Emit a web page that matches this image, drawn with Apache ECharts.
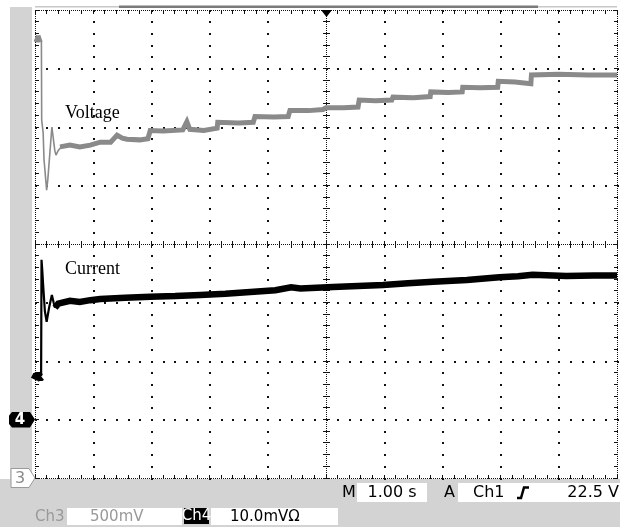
<!DOCTYPE html>
<html>
<head>
<meta charset="utf-8">
<script src="https://cdn.jsdelivr.net/npm/echarts@6/dist/echarts.min.js"></script>
<style>
html,body{margin:0;padding:0;background:#fff;}
#chart{width:620px;height:527px;}
</style>
</head>
<body>
<div id="chart"></div>
<script>
// ---- data (time in s relative to trigger, voltage in V, current in mV) ----
const timeRange = [-5, 5];
const voltRange = [0, 4];          // Ch3, 500 mV/div
const currRange = [-10, 70];       // Ch4, 10.0 mV/div
const divRange = [-4, 4];
const gridDivsX = [-5, -4, -3, -2, -1, 0, 1, 2, 3, 4, 5];
const gridDivsY = [-4, -3, -2, -1, 0, 1, 2, 3, 4];

const voltPlateau = [[-5.00, 3.76], [-4.95, 3.75], [-4.89, 3.76]];
const voltTransient = [[-4.89, 3.74], [-4.885, 3.06], [-4.86, 2.95], [-4.845, 2.72], [-4.80, 2.46],
  [-4.78, 2.55], [-4.71, 3.00], [-4.66, 2.80], [-4.64, 2.76], [-4.60, 2.80], [-4.55, 2.83]];
const voltMain = [[-4.57, 2.83], [-4.40, 2.845], [-4.23, 2.83], [-4.05, 2.845], [-3.88, 2.87], [-3.70, 2.87],
  [-3.59, 2.93], [-3.50, 2.905], [-3.42, 2.895], [-3.20, 2.89], [-3.06, 2.90], [-3.02, 2.97], [-2.80, 2.965],
  [-2.46, 2.975], [-2.39, 3.045], [-2.34, 2.98], [-2.10, 2.97], [-1.87, 2.99], [-1.86, 3.04], [-1.50, 3.035],
  [-1.25, 3.04], [-1.22, 3.09], [-0.90, 3.085], [-0.65, 3.09], [-0.62, 3.14], [-0.30, 3.14], [-0.05, 3.15],
  [0.00, 3.165], [0.30, 3.165], [0.55, 3.17], [0.57, 3.23], [0.85, 3.225], [1.13, 3.23], [1.15, 3.255],
  [1.50, 3.25], [1.79, 3.26], [1.80, 3.30], [2.10, 3.295], [2.34, 3.30], [2.35, 3.34], [2.65, 3.335],
  [2.95, 3.34], [2.96, 3.39], [3.25, 3.385], [3.52, 3.37], [3.53, 3.445], [4.00, 3.45], [4.50, 3.445], [5.00, 3.445]];

const currLow = [[-5.00, 6.8], [-4.96, 7.6], [-4.92, 7.2], [-4.895, 7.4]];
const currTransient = [[-4.895, 7.4], [-4.888, 27.3], [-4.875, 25.5], [-4.86, 23.0], [-4.83, 18.5],
  [-4.80, 16.7], [-4.76, 19.0], [-4.71, 21.3], [-4.68, 20.0], [-4.656, 19.1]];
const currMain = [[-4.656, 19.1], [-4.60, 19.8], [-4.57, 20.1], [-4.40, 20.3], [-4.23, 20.1], [-4.05, 20.4],
  [-3.88, 20.6], [-3.45, 20.8], [-3.02, 21.0], [-2.59, 21.1], [-2.16, 21.3], [-1.73, 21.5], [-1.30, 21.8],
  [-0.87, 22.1], [-0.60, 22.6], [-0.44, 22.4], [0.12, 22.65], [0.55, 22.8], [0.98, 23.0], [1.41, 23.3],
  [1.84, 23.55], [2.42, 23.85], [2.98, 24.3], [3.30, 24.5], [3.55, 24.75], [4.13, 24.55], [4.60, 24.6], [5.00, 24.6]];

const traceNames = ['Voltage', 'Current'];
const timebaseText = ['M', '1.00 s'];
const triggerText = ['A', 'Ch1', '22.5 V'];
const ch3Text = ['Ch3', '500mV'];
const ch4Text = ['Ch4', '10.0mVΩ'];
const markerText = ['4', '3'];

// ---- chart ----
const chart = echarts.init(document.getElementById('chart'), null, {renderer: 'canvas'});
const SUB = 5; // minor steps per division

function px(x, y, w, h, fill) {
  return {type: 'rect', shape: {x: x, y: y, width: w, height: h}, style: {fill: fill}, silent: true};
}

// graticule drawn through the axes' own scales
function renderGraticule(params, api) {
  const kind = api.value(0), pos = api.value(1);
  const ch = [];
  const INK = '#111';
  if (kind === 0) { // vertical line at time = pos
    const a = api.coord([pos, divRange[1]]), b = api.coord([pos, divRange[0]]);
    const c = Math.floor(a[0]);
    const top = a[1], bot = b[1];
    const n = (divRange[1] - divRange[0]) * SUB;
    const step = (bot - top) / n;
    const isLeft = pos === timeRange[0], isRight = pos === timeRange[1], isCenter = pos === 0;
    if (isLeft || isRight || isCenter) {
      for (let y = Math.floor(top); y <= bot; y += 2) ch.push(px(c, y, 1, 1, INK));
    }
    for (let k = 0; k <= n; k++) {
      const r = Math.floor(top + k * step);
      if (isLeft) ch.push(px(c, r, 4, 1, INK));
      else if (isRight) ch.push(px(c - 3, r, 4, 1, INK));
      else if (isCenter) ch.push(px(c - 3, r, 7, 1, INK));
      else ch.push(px(c, r, 2, 2, INK));
    }
  } else { // horizontal line at division = pos
    const a = api.coord([timeRange[0], pos]), b = api.coord([timeRange[1], pos]);
    const r = Math.floor(a[1]);
    const left = a[0], right = b[0];
    const n = (timeRange[1] - timeRange[0]) * SUB;
    const step = (right - left) / n;
    const isTop = pos === divRange[1], isBot = pos === divRange[0], isCenter = pos === 0;
    if (isTop || isBot || isCenter) {
      for (let x = Math.floor(left); x <= right; x += 2) ch.push(px(x, r, 1, 1, INK));
    }
    for (let k = 0; k <= n; k++) {
      const c = Math.floor(left + k * step);
      if (isTop) ch.push(px(c, r, 1, 4, INK));
      else if (isBot) ch.push(px(c, r - 3, 1, 4, INK));
      else if (isCenter) ch.push(px(c, r - 3, 1, 7, INK));
      else ch.push(px(c, r, 2, 2, INK));
    }
  }
  return {type: 'group', children: ch};
}

const graticuleData = gridDivsX.map(v => [0, v]).concat(gridDivsY.map(v => [1, v]));

function hiddenAxis(range) {
  return {type: 'value', show: false, min: range[0], max: range[1], scale: false};
}

const GREY = '#d3d3d3';
const option = {
  animation: false,
  backgroundColor: '#fff',
  grid: {left: 35, right: 3, top: 10, bottom: 49, containLabel: false, show: false},
  xAxis: [hiddenAxis(timeRange)],
  yAxis: [hiddenAxis(voltRange), hiddenAxis(currRange), hiddenAxis(divRange)],
  series: [
    {name: 'graticule', type: 'custom', xAxisIndex: 0, yAxisIndex: 2, data: graticuleData,
      renderItem: renderGraticule, silent: true, clip: false, z: 1,
      encode: {x: -1, y: -1}},
    {name: traceNames[0], type: 'line', xAxisIndex: 0, yAxisIndex: 0, data: voltPlateau, symbol: 'none',
      lineStyle: {color: '#8a8a8a', width: 7, cap: 'butt'}, z: 5},
    {name: traceNames[0], type: 'line', xAxisIndex: 0, yAxisIndex: 0, data: voltTransient, symbol: 'none',
      lineStyle: {color: '#8a8a8a', width: 1.6}, z: 5},
    {name: traceNames[0], type: 'line', xAxisIndex: 0, yAxisIndex: 0, data: voltMain, symbol: 'none',
      lineStyle: {color: '#8a8a8a', width: 5, join: 'miter'}, z: 5},
    {name: traceNames[1], type: 'line', xAxisIndex: 0, yAxisIndex: 1, data: currLow, symbol: 'none',
      lineStyle: {color: '#000', width: 9, cap: 'butt'}, z: 6},
    {name: traceNames[1], type: 'line', xAxisIndex: 0, yAxisIndex: 1, data: currTransient, symbol: 'none',
      lineStyle: {color: '#000', width: 2.2}, z: 6},
    {name: traceNames[1], type: 'line', xAxisIndex: 0, yAxisIndex: 1, data: currMain, symbol: 'none',
      lineStyle: {color: '#000', width: 6.5, join: 'miter'}, z: 6}
  ],
  graphic: [
    // background panels
    {type: 'rect', z: -10, silent: true, shape: {x: 10, y: 7, width: 22, height: 520}, style: {fill: GREY}},
    {type: 'rect', z: -10, silent: true, shape: {x: 0, y: 479, width: 620, height: 48}, style: {fill: GREY}},
    // record bar
    {type: 'rect', z: 1, silent: true, shape: {x: 35, y: 6, width: 582, height: 1.5}, style: {fill: '#c8c8c8'}},
    {type: 'rect', z: 1, silent: true, shape: {x: 119, y: 5.5, width: 419, height: 2.5}, style: {fill: '#7a7a7a'}},
    // trigger position marker
    {type: 'polygon', z: 20, silent: true, shape: {points: [[321, 10], [332, 10], [326.5, 17]]}, style: {fill: '#000'}},
    // trace labels
    {type: 'text', z: 20, x: 65, y: 122, style: {text: traceNames[0], font: '18px "Liberation Serif"', fill: '#000', textVerticalAlign: 'bottom'}},
    {type: 'text', z: 20, x: 65, y: 278, style: {text: traceNames[1], font: '18px "Liberation Serif"', fill: '#000', textVerticalAlign: 'bottom'}},
    // ch4 ground marker
    {type: 'polygon', z: 20, silent: true, shape: {points: [[9, 415.5], [12, 412], [30, 412], [35, 419.5], [30, 427.5], [12, 427.5], [9, 424]]}, style: {fill: '#000'}},
    {type: 'text', z: 21, x: 20, y: 420, style: {text: markerText[0], font: 'bold 15px "DejaVu Sans"', fill: '#fff', textAlign: 'center', textVerticalAlign: 'middle'}},
    // ch3 ground marker
    {type: 'polygon', z: 20, silent: true, shape: {points: [[11, 468.5], [29, 468.5], [35, 478], [29, 487.5], [11, 487.5]]}, style: {fill: '#fff', stroke: '#9a9a9a', lineWidth: 1}},
    {type: 'text', z: 21, x: 20, y: 478.5, style: {text: markerText[1], font: '16px "DejaVu Sans"', fill: '#8a8a8a', textAlign: 'center', textVerticalAlign: 'middle'}},
    // status row 1
    {type: 'text', z: 20, x: 342, y: 493, style: {text: timebaseText[0], font: '16px "DejaVu Sans"', fill: '#000', textVerticalAlign: 'middle'}},
    {type: 'rect', z: 10, silent: true, shape: {x: 357, y: 483, width: 70, height: 19}, style: {fill: '#fff'}},
    {type: 'text', z: 20, x: 392, y: 493, style: {text: timebaseText[1], font: '16px "DejaVu Sans"', fill: '#000', textAlign: 'center', textVerticalAlign: 'middle'}},
    {type: 'text', z: 20, x: 444, y: 493, style: {text: triggerText[0], font: '16px "DejaVu Sans"', fill: '#000', textVerticalAlign: 'middle'}},
    {type: 'rect', z: 10, silent: true, shape: {x: 458, y: 483, width: 162, height: 19}, style: {fill: '#fff'}},
    {type: 'text', z: 20, x: 473, y: 493, style: {text: triggerText[1], font: '16px "DejaVu Sans"', fill: '#000', textVerticalAlign: 'middle'}},
    {type: 'polyline', z: 20, silent: true, shape: {points: [[517, 498], [521, 498], [524, 487.5], [529, 487.5]]}, style: {stroke: '#000', lineWidth: 2.5, fill: null}},
    {type: 'text', z: 20, x: 619, y: 493, style: {text: triggerText[2], font: '16px "DejaVu Sans"', fill: '#000', textAlign: 'right', textVerticalAlign: 'middle'}},
    // status row 2
    {type: 'text', z: 20, x: 35, y: 517, style: {text: ch3Text[0], font: '15px "DejaVu Sans"', fill: '#999', textVerticalAlign: 'middle'}},
    {type: 'rect', z: 10, silent: true, shape: {x: 67, y: 508, width: 115, height: 17}, style: {fill: '#fff'}},
    {type: 'text', z: 20, x: 90, y: 517, style: {text: ch3Text[1], font: '15px "DejaVu Sans"', fill: '#999', textVerticalAlign: 'middle'}},
    {type: 'rect', z: 10, silent: true, shape: {x: 184, y: 508, width: 25, height: 16}, style: {fill: '#000'}},
    {type: 'text', z: 20, x: 196.5, y: 516.5, style: {text: ch4Text[0], font: '15px "DejaVu Sans"', fill: '#fff', textAlign: 'center', textVerticalAlign: 'middle'}},
    {type: 'rect', z: 10, silent: true, shape: {x: 211, y: 508, width: 127, height: 17}, style: {fill: '#fff'}},
    {type: 'text', z: 20, x: 230, y: 517, style: {text: ch4Text[1], font: '15px "DejaVu Sans"', fill: '#000', textVerticalAlign: 'middle'}}
  ]
};
chart.setOption(option);
</script>
</body>
</html>
